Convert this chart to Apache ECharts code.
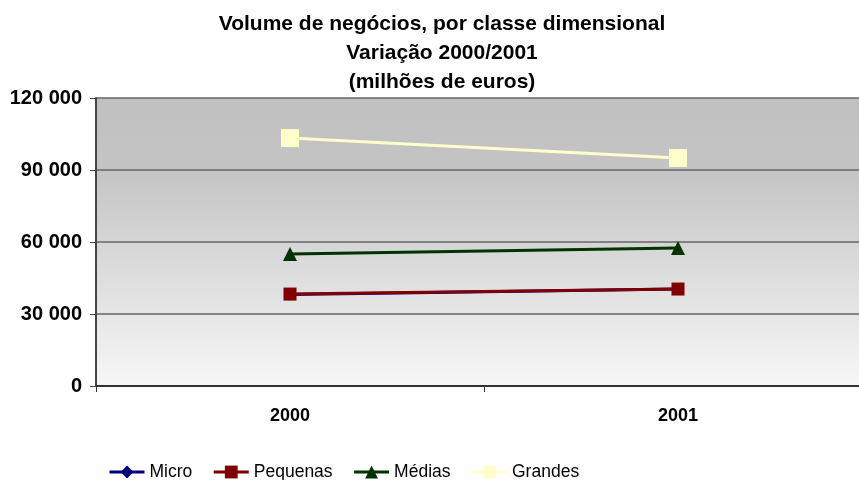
<!DOCTYPE html>
<html><head><meta charset="utf-8">
<script src="https://cdn.jsdelivr.net/npm/echarts@6/dist/echarts.min.js"></script>
<style>html,body{margin:0;padding:0;background:#fff;overflow:hidden}#c{width:880px;height:480px}</style>
</head><body><div id="c"></div>
<script>
const categories = ['2000', '2001'];
const micro = [38100, 40400];
const pequenas = [38300, 40400];
const medias = [55000, 57500];
const grandes = [103300, 95000];
const yTicks = [0, 30000, 60000, 90000, 120000];

const chart = echarts.init(document.getElementById('c'));
const font = '"Liberation Sans", Arial, sans-serif';
function fmt(v){ return String(v).replace(/\B(?=(\d{3})+(?!\d))/g, ' '); }
chart.setOption({
  animation: false,
  title: {
    text: 'Volume de negócios, por classe dimensional\nVariação 2000/2001\n(milhões de euros)',
    left: 437, textAlign: 'center', top: 5,
    textStyle: { fontFamily: font, fontSize: 21, fontWeight: 'bold', color: '#000', lineHeight: 29 }
  },
  grid: {
    left: 96, top: 98, width: 776, height: 288, show: true, borderWidth: 0,
    backgroundColor: new echarts.graphic.LinearGradient(0, 0, 0, 1, [
      { offset: 0, color: '#c0c0c0' }, { offset: 0.25, color: '#c4c4c4' }, { offset: 1, color: '#f7f7f7' }
    ])
  },
  legend: {
    top: 458, left: 103, itemWidth: 35, itemHeight: 16, itemGap: 20,
    lineStyle: { width: 3 },
    textStyle: { fontFamily: font, fontSize: 17.5, color: '#000' },
    data: ['Micro', 'Pequenas', 'Médias', 'Grandes']
  },
  xAxis: {
    type: 'category', data: categories, boundaryGap: true,
    axisLine: { lineStyle: { color: '#333', width: 2 } },
    axisTick: { show: true, length: 6, lineStyle: { color: '#333' } },
    axisLabel: { fontFamily: font, fontSize: 18, fontWeight: 'bold', color: '#000', margin: 21 }
  },
  yAxis: {
    type: 'value', min: 0, max: 120000, interval: 30000,
    axisLine: { show: true, lineStyle: { color: '#444', width: 2 } },
    axisTick: { show: true, length: 6, lineStyle: { color: '#444' } },
    axisLabel: { fontFamily: font, fontSize: 20, fontWeight: 'bold', color: '#000', margin: 14, formatter: v => fmt(v) },
    splitLine: { show: true, lineStyle: { color: '#666', width: 1.5 } }
  },
  series: [
    { name: 'Micro', type: 'line', data: micro, symbol: 'diamond', symbolSize: 12,
      lineStyle: { color: '#000080', width: 3 }, itemStyle: { color: '#000080' } },
    { name: 'Pequenas', type: 'line', data: pequenas, symbol: 'rect', symbolSize: 13,
      lineStyle: { color: '#800000', width: 3 }, itemStyle: { color: '#800000' } },
    { name: 'Médias', type: 'line', data: medias, symbol: 'triangle', symbolSize: 14,
      lineStyle: { color: '#003300', width: 3 }, itemStyle: { color: '#003300' } },
    { name: 'Grandes', type: 'line', data: grandes, symbol: 'rect', symbolSize: 18,
      lineStyle: { color: '#ffffcc', width: 3 }, itemStyle: { color: '#ffffcc' } }
  ]
});
</script></body></html>
